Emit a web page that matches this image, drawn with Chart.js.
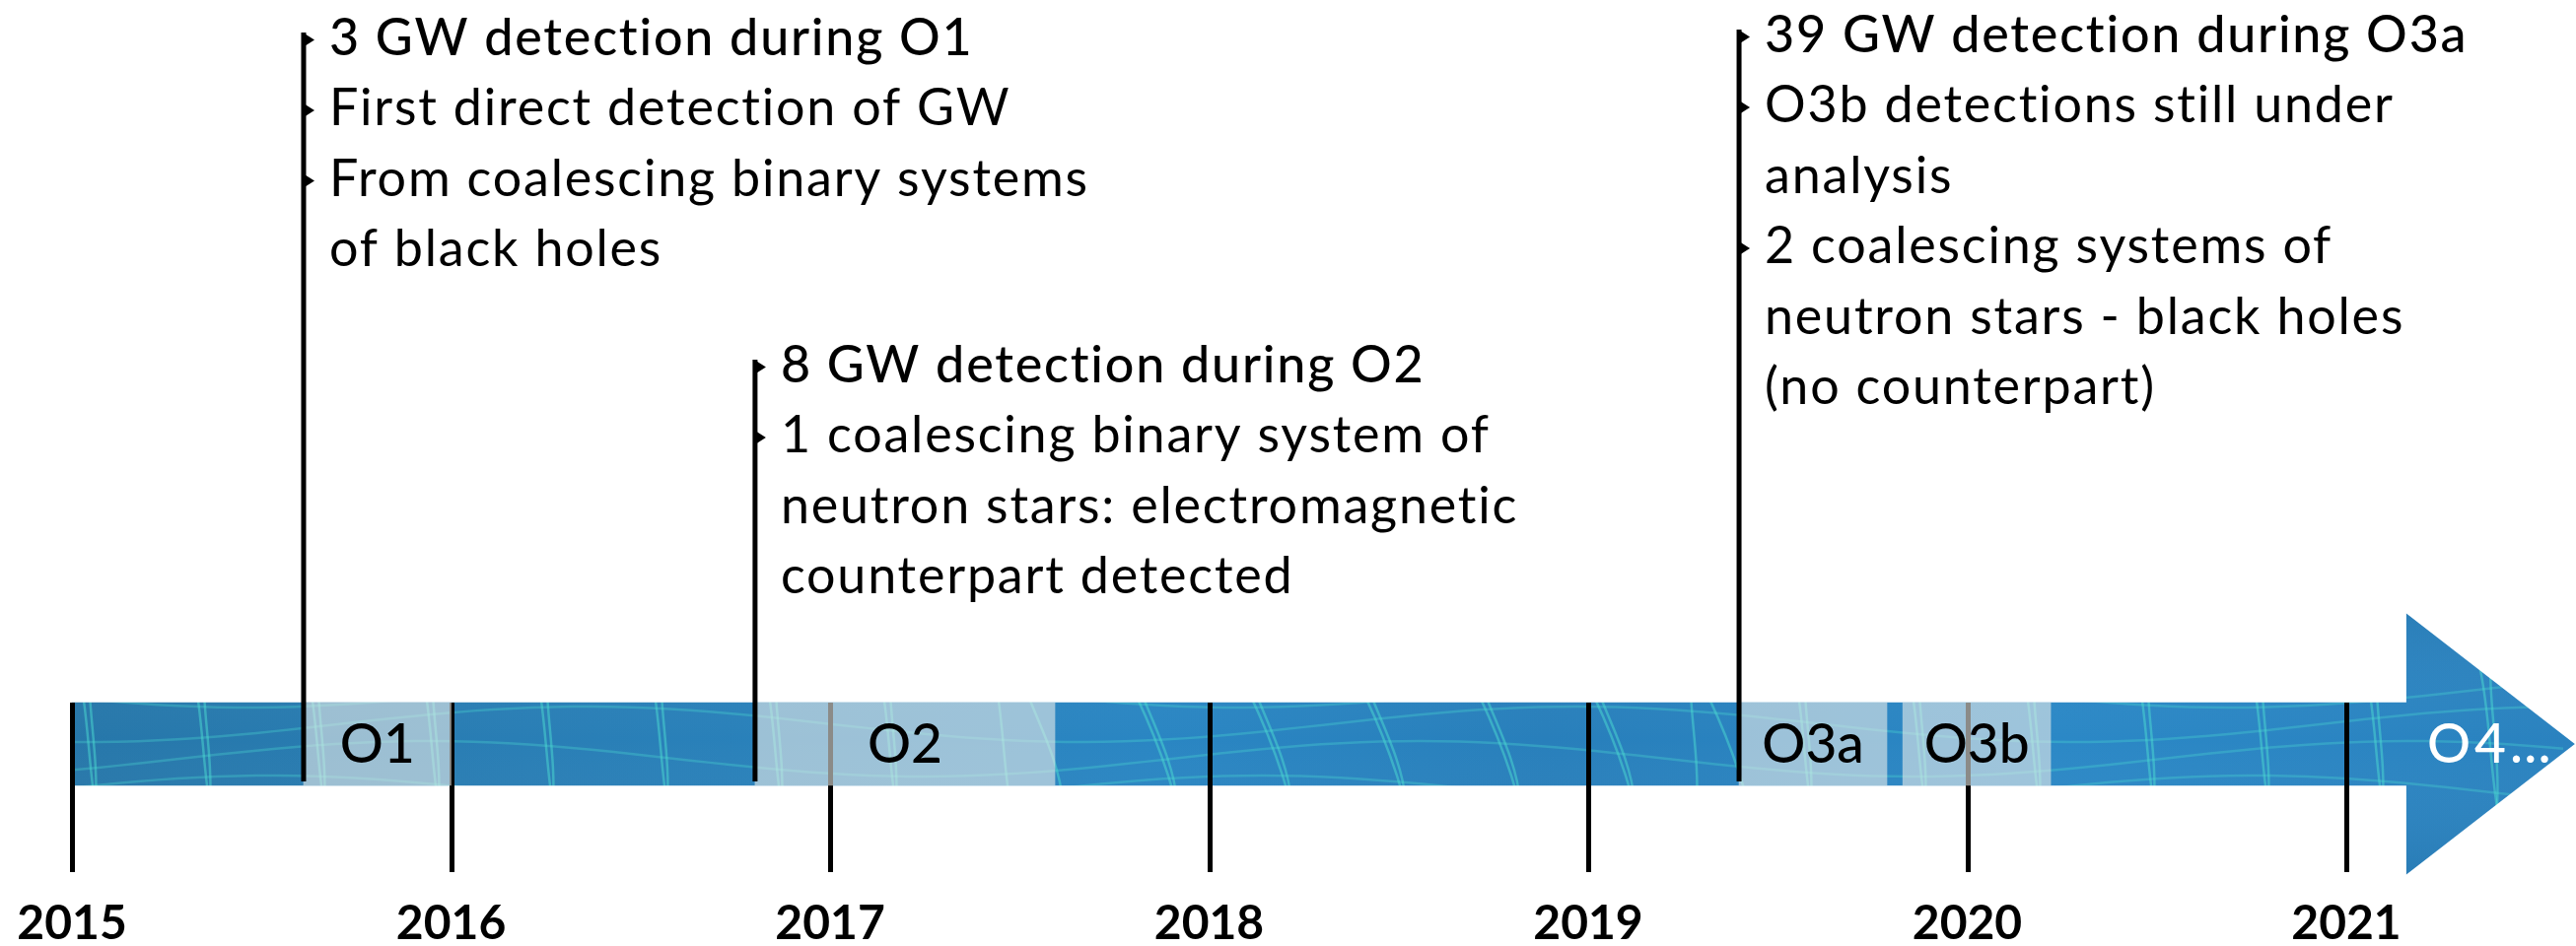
<!DOCTYPE html>
<html>
<head>
<meta charset="utf-8">
<script src="https://cdn.jsdelivr.net/npm/chart.js@4.4.0/dist/chart.umd.min.js"></script>
<style>
  html, body { margin: 0; padding: 0; background: #ffffff; }
  #wrap { width: 2613px; height: 960px; }
</style>
</head>
<body>
<div id="wrap"><canvas id="c" width="2613" height="960"></canvas></div>
<script>
// ---------------- DATA ----------------
const years       = [2015, 2016, 2017, 2018, 2019, 2020, 2021];
const yearLabels  = ['2015', '2016', '2017', '2018', '2019', '2020', '2021'];

const runNames    = ['O1', 'O2', 'O3a', 'O3b'];
const runStarts   = [2015.611, 2016.802, 2019.398, 2019.830];
const runEnds     = [2016.000, 2017.593, 2019.788, 2020.220];

const timelineStart = 2015.0;
const arrowBase     = 2021.161;
const arrowTip      = 2021.603;
const nextRunName   = 'O4…';
const nextRunAt     = 2021.213;

const eventDates  = [2015.611, 2016.802, 2019.398];
const eventTitles = ['3 GW detection during O1', '8 GW detection during O2', '39 GW detection during O3a'];
const eventNotes  = [
  [['First direct detection of GW'], ['From coalescing binary systems', 'of black holes']],
  [['1 coalescing binary system of', 'neutron stars: electromagnetic', 'counterpart detected']],
  [['O3b detections still under', 'analysis'], ['2 coalescing systems of', 'neutron stars - black holes', '(no counterpart)']]
];

// ---------------- LAYOUT / STYLE ----------------
const LAYOUT = {
  yTop: 0, yBottom: 885,          // vertical layout units of the chart area
  barCenter: 755, barThickness: 84, arrowHalf: 132.5,
  eventTop: [33, 365, 30], eventBottom: 793,
  textGap: 26, firstBaseline: 22.5, linePitch: 71.5,
  axisHeight: 75
};
const FONT = 'Lato, "Open Sans", "DejaVu Sans", sans-serif';

function makeTexture(w, h) {
  const c = document.createElement('canvas');
  c.width = w; c.height = h;
  const g = c.getContext('2d');
  const grad = g.createLinearGradient(0, 0, w, 0);
  grad.addColorStop(0.00, '#2676a8');
  grad.addColorStop(0.20, '#297eb5');
  grad.addColorStop(0.45, '#2a86c3');
  grad.addColorStop(0.60, '#287fbb');
  grad.addColorStop(0.80, '#2b88c6');
  grad.addColorStop(1.00, '#2a82bf');
  g.fillStyle = grad;
  g.fillRect(0, 0, w, h);
  const vg = g.createLinearGradient(0, 600, 0, 900);
  vg.addColorStop(0, 'rgba(0,30,60,0.10)');
  vg.addColorStop(0.5, 'rgba(255,255,255,0.00)');
  vg.addColorStop(1, 'rgba(0,30,60,0.10)');
  g.fillStyle = vg;
  g.fillRect(0, 600, w, 300);
  // decorative mesh lines
  g.lineWidth = 2.5;
  g.strokeStyle = 'rgba(75,220,210,0.50)';
  let k = 0;
  for (let x = -300; x < w + 300; x += 58) {
    const tilt = (k % 2 === 0) ? 60 : -45;
    const bend = (x > 1000 && x < 1700) ? 110 : 25;
    g.beginPath();
    g.moveTo(x, 600);
    g.bezierCurveTo(x + tilt, 690, x + bend, 800, x + tilt + bend * 0.5, 900);
    g.stroke();
    k++;
  }
  g.strokeStyle = 'rgba(75,220,210,0.33)';
  for (let j = 0; j < 4; j++) {
    g.beginPath();
    for (let x = 0; x <= w; x += 20) {
      const y = 700 + j * 35 + 18 * Math.sin(x / 160 + j);
      if (x === 0) g.moveTo(x, y); else g.lineTo(x, y);
    }
    g.stroke();
  }
  return g.createPattern(c, 'no-repeat');
}

const texture = makeTexture(2613, 960);

const timelinePlugin = {
  id: 'timeline',
  beforeDatasetsDraw(chart) {
    const { ctx, scales: { x, y } } = chart;
    const bx = x.getPixelForValue(arrowBase);
    const tx = x.getPixelForValue(arrowTip);
    const cy = y.getPixelForValue(LAYOUT.barCenter);
    const t = y.getPixelForValue(LAYOUT.barCenter - LAYOUT.arrowHalf);
    const b = y.getPixelForValue(LAYOUT.barCenter + LAYOUT.arrowHalf);
    ctx.save();
    ctx.fillStyle = texture;
    ctx.beginPath();
    ctx.moveTo(bx - 1, t);
    ctx.lineTo(tx, cy);
    ctx.lineTo(bx - 1, b);
    ctx.closePath();
    ctx.fill();
    ctx.restore();
  },
  afterDatasetDraw(chart, args) {
    if (args.index !== 0) return;
    const { ctx, scales: { x, y }, chartArea } = chart;
    const top = y.getPixelForValue(LAYOUT.barCenter - LAYOUT.barThickness / 2);
    ctx.save();
    ctx.strokeStyle = '#000';
    ctx.lineWidth = 5;
    x.ticks.forEach(tk => {
      const px = Math.round(x.getPixelForValue(tk.value)) + 0.5;
      ctx.beginPath();
      ctx.moveTo(px, top);
      ctx.lineTo(px, chartArea.bottom);
      ctx.stroke();
    });
    ctx.restore();
  },
  afterDatasetsDraw(chart) {
    const { ctx, scales: { x, y } } = chart;
    ctx.save();
    // run labels inside the bar
    const cy = y.getPixelForValue(LAYOUT.barCenter);
    ctx.font = '500 55px ' + FONT;
    ctx.textBaseline = 'middle';
    ctx.textAlign = 'center';
    ctx.fillStyle = '#000';
    runNames.forEach((n, i) => {
      const cx = (x.getPixelForValue(runStarts[i]) + x.getPixelForValue(runEnds[i])) / 2;
      ctx.fillText(n, cx, cy + 1);
    });
    ctx.textAlign = 'left';
    ctx.fillStyle = '#ffffff';
    if ('letterSpacing' in ctx) ctx.letterSpacing = '4px';
    ctx.fillText(nextRunName, x.getPixelForValue(nextRunAt), cy + 1);

    // event annotations
    ctx.textBaseline = 'alphabetic';
    ctx.fillStyle = '#000';
    if ('letterSpacing' in ctx) ctx.letterSpacing = '1.8px';
    eventDates.forEach((d, i) => {
      const px = x.getPixelForValue(d);
      const tx = px + LAYOUT.textGap;
      let base = y.getPixelForValue(LAYOUT.eventTop[i] + LAYOUT.firstBaseline);
      const bullet = (yb) => {
        ctx.beginPath();
        ctx.moveTo(px, yb - 22);
        ctx.lineTo(px + 11, yb - 15);
        ctx.lineTo(px, yb - 8);
        ctx.closePath();
        ctx.fill();
      };
      ctx.font = '500 52px ' + FONT;
      ctx.fillText(eventTitles[i], tx, base);
      bullet(base);
      ctx.font = '400 52px ' + FONT;
      eventNotes[i].forEach(par => {
        par.forEach((line, j) => {
          base += LAYOUT.linePitch;
          ctx.fillText(line, tx, base);
          if (j === 0) bullet(base);
        });
      });
    });
    ctx.restore();
  }
};

function build() {
  const datasets = [
    {
      type: 'bar', label: 'timeline',
      data: [{ x: [timelineStart, arrowBase], y: LAYOUT.barCenter }],
      backgroundColor: texture, borderWidth: 0,
      barThickness: LAYOUT.barThickness, grouped: false, order: 5
    },
    {
      type: 'bar', label: 'observing runs',
      data: runStarts.map((s, i) => ({ x: [s, runEnds[i]], y: LAYOUT.barCenter })),
      backgroundColor: 'rgba(240,240,235,0.58)', borderWidth: 0,
      barThickness: LAYOUT.barThickness, grouped: false, order: 4
    }
  ];
  eventDates.forEach((d, i) => {
    datasets.push({
      type: 'line', label: eventTitles[i],
      data: [{ x: d, y: LAYOUT.eventTop[i] }, { x: d, y: LAYOUT.eventBottom }],
      borderColor: '#000', borderWidth: 5, borderCapStyle: 'butt',
      pointRadius: 0, fill: false, order: 1
    });
  });

  new Chart(document.getElementById('c'), {
    type: 'bar',
    data: { datasets },
    options: {
      indexAxis: 'y',
      responsive: false,
      animation: false,
      devicePixelRatio: 1,
      layout: { padding: 0 },
      plugins: { legend: { display: false }, tooltip: { enabled: false } },
      scales: {
        x: {
          type: 'linear', position: 'bottom', offset: false,
          min: 2014.810, max: 2021.606,
          afterBuildTicks: (axis) => { axis.ticks = years.map(v => ({ value: v })); },
          afterFit: (axis) => { axis.height = LAYOUT.axisHeight; },
          grid: { display: false, drawTicks: false },
          border: { display: false },
          ticks: {
            autoSkip: false, maxRotation: 0, padding: 0,
            color: '#000',
            font: { family: FONT, weight: 'bold', size: 48, lineHeight: 2.2 },
            callback: (v, i) => yearLabels[i]
          }
        },
        y: {
          type: 'linear', display: false, offset: false,
          min: LAYOUT.yTop, max: LAYOUT.yBottom, reverse: true
        }
      }
    },
    plugins: [timelinePlugin]
  });
}

if (document.fonts && document.fonts.load) {
  Promise.all([
    document.fonts.load('400 52px Lato'),
    document.fonts.load('500 52px Lato'),
    document.fonts.load('700 48px Lato')
  ]).then(build, build);
} else {
  build();
}
</script>
</body>
</html>
